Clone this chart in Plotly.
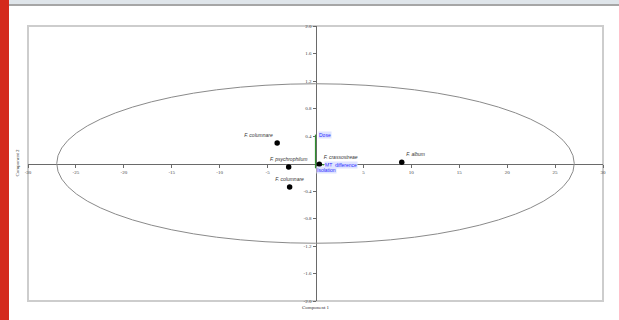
import plotly.graph_objects as go

# PCA scores (Component 1 / Component 2) for each strain
species = ["F. columnare", "F. psychrophilum", "F. columnare", "F. crassostreae", "F. album"]
comp1 = [-4.0, -2.8, -2.7, 0.4, 9.0]
comp2 = [0.30, -0.05, -0.34, -0.01, 0.02]
label_pos = ["top left", "top center", "top center", "top right", "top right"]

# variable loadings drawn from the origin
variables = ["Dose", "MT_difference", "Isolation"]
load1 = [0.0, 0.9, 0.0]
load2 = [0.42, -0.02, -0.07]

# confidence ellipse semi-axes
ell_a = 27.0
ell_b = 1.16

x_ticks = [-30, -25, -20, -15, -10, -5, 5, 10, 15, 20, 25, 30]
y_ticks = [-2.0, -1.6, -1.2, -0.8, -0.4, 0.4, 0.8, 1.2, 1.6, 2.0]

W, H = 619, 320
ML, MR, MT, MB = 28, 16, 26, 19
PW, PH = W - ML - MR, H - MT - MB


def px_x(p):
    return (p - ML) / PW


def px_y(p):
    return (H - MB - p) / PH


fig = go.Figure()

# loading vectors
for v, lx, ly in zip(variables, load1, load2):
    fig.add_trace(go.Scatter(x=[0, lx], y=[0, ly], mode="lines",
                             line=dict(color="#2f8f2f", width=1.2),
                             hoverinfo="skip", showlegend=False))

# strain scores
fig.add_trace(go.Scatter(
    x=comp1, y=comp2, mode="markers+text", text=species,
    textposition=label_pos,
    textfont=dict(family="Liberation Sans", size=5, color="#333333", style="italic"),
    marker=dict(color="black", size=5.5),
    showlegend=False,
))

# ellipse
fig.add_shape(type="circle", xref="x", yref="y",
              x0=-ell_a, x1=ell_a, y0=-ell_b, y1=ell_b,
              line=dict(color="#8a8a8a", width=1))

# plot frame
fig.add_shape(type="rect", xref="paper", yref="paper", x0=0, x1=1, y0=0, y1=1,
              line=dict(color="#cdcdcd", width=2), layer="below")

# page decorations: red side bar and top strip
fig.add_shape(type="rect", xref="paper", yref="paper",
              x0=px_x(0), x1=px_x(9), y0=px_y(H), y1=px_y(0),
              line=dict(width=0), fillcolor="#d42a1c")
fig.add_shape(type="rect", xref="paper", yref="paper",
              x0=px_x(9), x1=px_x(W), y0=px_y(4), y1=px_y(0),
              line=dict(width=0), fillcolor="#dfe5ea")
fig.add_shape(type="rect", xref="paper", yref="paper",
              x0=px_x(9), x1=px_x(W), y0=px_y(6), y1=px_y(4),
              line=dict(width=0), fillcolor="#a6a6a6")

# loading labels
for v, lx, ly, xs, ys in zip(variables, load1, load2, [2, 0, 0], [0, 0, -2]):
    fig.add_annotation(x=lx, y=ly, text=v, showarrow=False, xanchor="left",
                       xshift=xs, yshift=ys,
                       font=dict(family="Liberation Sans", size=5, color="#2a2aff"),
                       bgcolor="#dfe4ff", borderpad=0)

# axis titles
fig.add_annotation(x=0.5, y=px_y(312), xref="paper", yref="paper", text="Component 1",
                   showarrow=False, font=dict(family="Liberation Serif", size=5, color="#333"))
fig.add_annotation(x=px_x(12), y=px_y(163), xref="paper", yref="paper", text="Component 2",
                   showarrow=False, textangle=-90,
                   font=dict(family="Liberation Serif", size=5, color="#333"))

axis_common = dict(showgrid=False, zeroline=False, showline=True, linecolor="#6a6a6a",
                   linewidth=1, ticks="outside", ticklen=3, tickcolor="#6a6a6a",
                   tickfont=dict(family="Liberation Serif", size=5, color="#444"),
                   anchor="free", position=0.5, layer="below traces")

fig.update_layout(
    width=W, height=H,
    margin=dict(l=ML, r=MR, t=MT, b=MB),
    paper_bgcolor="white", plot_bgcolor="white",
    xaxis=dict(range=[-30, 30], tickvals=x_ticks,
               ticktext=[str(t) for t in x_ticks], **axis_common),
    yaxis=dict(range=[-2, 2], tickvals=y_ticks,
               ticktext=[f"{t:.1f}" for t in y_ticks], **axis_common),
    showlegend=False,
)

fig.write_html("out.html")
